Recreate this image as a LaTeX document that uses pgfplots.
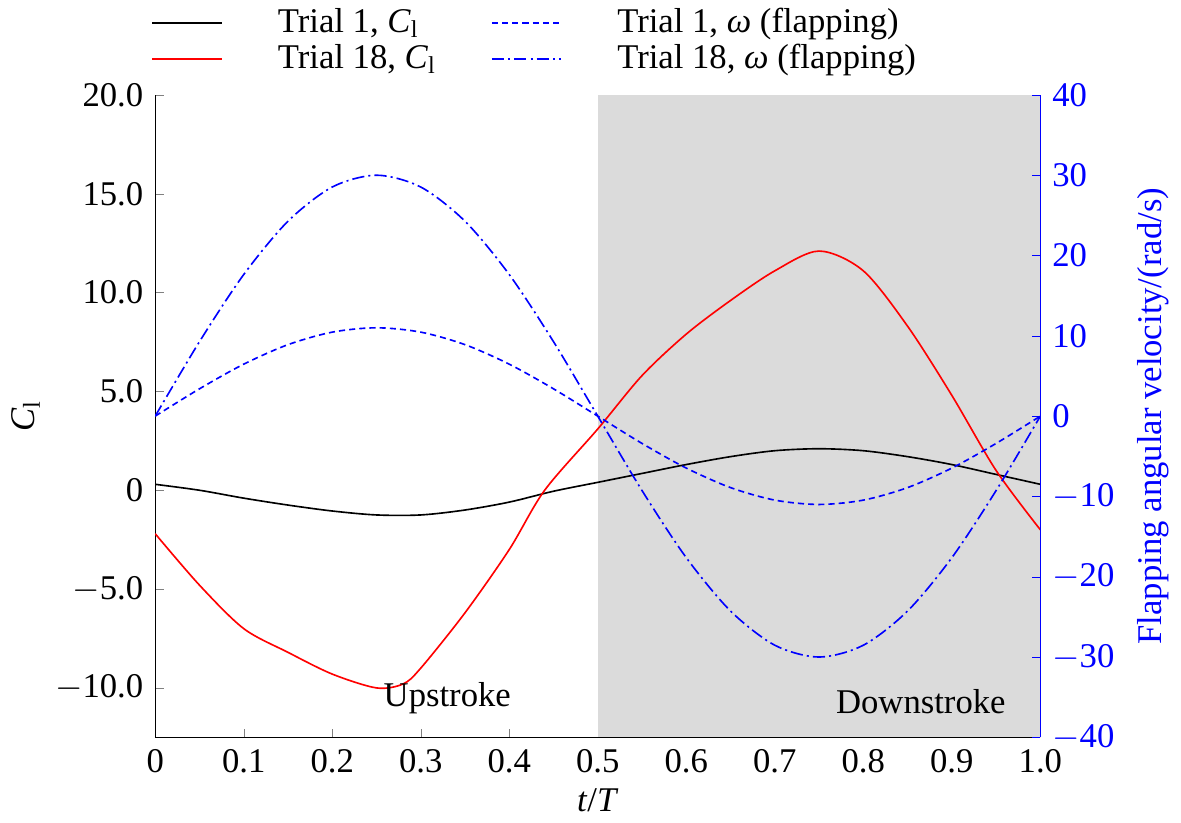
\documentclass[border=0pt]{standalone}
\usepackage{pgfplots}
\pgfplotsset{compat=1.18}
\usepackage{fontspec}
\setmainfont{Liberation Serif}
\begin{document}
\fontsize{17}{20}\selectfont
\begin{tikzpicture}
\pgfplotsset{every axis/.append style={scale only axis,width=434pt,height=315pt,xmin=0,xmax=1,
 tick align=inside,
 /pgf/number format/assume math mode=true,
 tick label style={font=\fontsize{17}{20}\selectfont},
 label style={font=\fontsize{17}{20}\selectfont}}}
\begin{axis}[ymin=-12.5,ymax=20,axis y line*=left,axis x line*=bottom,
 xtick={0,0.1,...,1.0},xticklabels={0,0.1,0.2,0.3,0.4,0.5,0.6,0.7,0.8,0.9,1.0},
 ytick={-10,-5,0,5,10,15,20},yticklabels={$-$10.0,$-$5.0,0,5.0,10.0,15.0,20.0},
 xlabel={\textit{t}/\textit{T}},ylabel={\textit{C}\textsubscript{l}},ylabel shift=-4pt,xlabel shift=-4pt]
\fill[gray!28] (axis cs:0.5,-12.5) rectangle (axis cs:1,20);
\addplot[black,thick,smooth] coordinates {(0,0.3)(0.05,0.0)(0.1,-0.4)(0.15,-0.75)(0.2,-1.05)(0.25,-1.25)(0.3,-1.25)(0.35,-1.0)(0.4,-0.6)(0.45,-0.05)(0.5,0.4)(0.55,0.85)(0.6,1.3)(0.65,1.7)(0.7,2.0)(0.75,2.1)(0.8,2.0)(0.85,1.7)(0.9,1.3)(0.95,0.8)(1.0,0.3)};
\addplot[red,thick,smooth] coordinates {(0,-2.2)(0.05,-4.8)(0.1,-7.0)(0.15,-8.2)(0.2,-9.3)(0.25,-10.0)(0.28,-9.8)(0.3,-9.0)(0.35,-6.2)(0.4,-3.0)(0.44,0)(0.5,3.1)(0.55,5.8)(0.6,7.9)(0.65,9.6)(0.7,11.1)(0.75,12.1)(0.8,11.1)(0.85,8.3)(0.9,4.8)(0.95,1.0)(1.0,-2.0)};
\node[anchor=south] at (axis cs:0.33,-11.9) {Upstroke};
\node[anchor=south] at (axis cs:0.865,-11.9) {Downstroke};
\end{axis}
\begin{axis}[ymin=-40,ymax=40,axis y line*=right,axis x line=none,
 ytick={-40,-30,...,40},yticklabels={$-$40,$-$30,$-$20,$-$10,0,10,20,30,40},
 y axis line style={blue},y tick style={blue},yticklabel style={blue},
 ylabel={Flapping angular velocity/(rad/s)},ylabel style={blue},
 legend style={at={(0.43,1.02)},anchor=south,draw=none,fill=none,font=\fontsize{17}{18}\selectfont,column sep=25pt,row sep=-1pt},
 legend image code/.code={\draw[#1] (0cm,0cm) -- (1.2cm,0cm);},
 legend columns=2,legend cell align=left]
\addlegendimage{black,thick}\addlegendentry{Trial 1, \textit{C}\textsubscript{l}}
\addplot[blue,thick,densely dashed,smooth] coordinates {(0,0)(0.05,3.40)(0.1,6.47)(0.15,8.90)(0.2,10.46)(0.25,11)(0.3,10.46)(0.35,8.90)(0.4,6.47)(0.45,3.40)(0.5,0)(0.55,-3.40)(0.6,-6.47)(0.65,-8.90)(0.7,-10.46)(0.75,-11)(0.8,-10.46)(0.85,-8.90)(0.9,-6.47)(0.95,-3.40)(1,0)};
\addlegendentry{Trial 1, \textit{ω} (flapping)}
\addlegendimage{red,thick}\addlegendentry{Trial 18, \textit{C}\textsubscript{l}}
\addplot[blue,thick,dash pattern=on 6pt off 2pt on 1pt off 2pt,smooth] coordinates {(0,0)(0.05,9.27)(0.1,17.63)(0.15,24.27)(0.2,28.53)(0.25,30)(0.3,28.53)(0.35,24.27)(0.4,17.63)(0.45,9.27)(0.5,0)(0.55,-9.27)(0.6,-17.63)(0.65,-24.27)(0.7,-28.53)(0.75,-30)(0.8,-28.53)(0.85,-24.27)(0.9,-17.63)(0.95,-9.27)(1,0)};
\addlegendentry{Trial 18, \textit{ω} (flapping)}
\end{axis}
\end{tikzpicture}
\end{document}
